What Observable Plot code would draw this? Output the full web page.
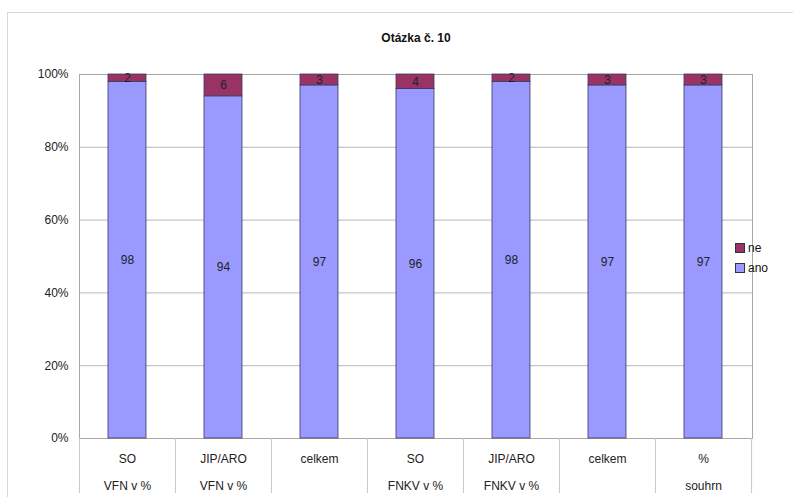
<!DOCTYPE html>
<html>
<head>
<meta charset="utf-8">
<script src="https://cdn.jsdelivr.net/npm/d3@7"></script>
<script src="https://cdn.jsdelivr.net/npm/@observablehq/plot@0.6"></script>
<style>
  html, body { margin: 0; padding: 0; background: #fff; overflow: hidden; }
  #wrap { position: relative; width: 793px; height: 497px; font-family: "Liberation Sans", Arial, sans-serif; }
  #border { position: absolute; left: 7px; top: 12px; width: 900px; height: 600px; border-left: 1px solid #d8d8d8; border-top: 1px solid #d8d8d8; }
  #chart { position: absolute; left: 0; top: 0; }
  #legend { position: absolute; left: 735px; top: 238px; font-size: 12px; color: #111; line-height: 20px; white-space: nowrap; }
  #legend .sw { display: inline-block; width: 8px; height: 8px; border: 1px solid #333; margin-right: 3px; vertical-align: -1px; }
</style>
</head>
<body>
<div id="wrap">
  <div id="border"></div>
  <div id="chart"></div>
  <div id="legend"></div>
</div>
<script>
const title = "Otázka č. 10";
const categories = ["SO\nVFN v %", "JIP/ARO\nVFN v %", "celkem", "SO\nFNKV v %", "JIP/ARO\nFNKV v %", "celkem", "%\nsouhrn"];
const ano = [98, 94, 97, 96, 98, 97, 97];
const ne = [2, 6, 3, 4, 2, 3, 3];
const seriesNames = ["ano", "ne"];
const seriesColors = ["#9999FF", "#993366"];
const yTicks = [0, 20, 40, 60, 80, 100];

const rows = [];
categories.forEach((c, i) => {
  rows.push({i, series: "ano", value: ano[i]});
  rows.push({i, series: "ne", value: ne[i]});
});
const idx = categories.map((c, i) => i);

const W = 793, H = 497;
const mL = 79, mR = 41, mT = 74, mB = 59;
const step = (W - mL - mR) / categories.length;

const plot = Plot.plot({
  width: W, height: H,
  marginLeft: mL, marginRight: mR, marginTop: mT, marginBottom: mB,
  style: {fontFamily: "'Liberation Sans', Arial, sans-serif", fontSize: "12px", background: "transparent", color: "#222"},
  x: {type: "band", domain: idx, paddingInner: 0.6, paddingOuter: 0.3},
  y: {domain: [0, 100]},
  color: {domain: seriesNames, range: seriesColors},
  marks: [
    Plot.gridY(yTicks, {stroke: "#b8b8b8", strokeOpacity: 1}),
    Plot.frame({stroke: "#a8a8a8"}),
    Plot.barY(rows, Plot.stackY({x: "i", y: "value", fill: "series", order: seriesNames, stroke: "#3a3a5a", strokeWidth: 0.8})),
    Plot.text(rows, Plot.stackY({x: "i", y: "value", z: "series", order: seriesNames, text: "value", fill: "#222", fontSize: 12})),
    Plot.axisY(yTicks, {tickFormat: d => d + "%", tickSize: 0, tickPadding: 11, fontSize: 12, label: null}),
    Plot.axisX(idx, {tickFormat: i => categories[i], tickSize: 0, tickPadding: 5, lineHeight: 2.25, fontSize: 12, label: null}),
    Plot.axisX(idx, {text: null, tickSize: mB - 4, dx: -step / 2, stroke: "#c8c8c8", label: null}),
    Plot.axisX([idx[idx.length - 1]], {text: null, tickSize: mB - 4, dx: step / 2, stroke: "#c8c8c8", label: null}),
    Plot.text([title], {frameAnchor: "top", dy: -41, fontWeight: "bold", fontSize: 12, fill: "#111"})
  ]
});
document.getElementById("chart").appendChild(plot);

const legend = document.getElementById("legend");
[["ne", seriesColors[1]], ["ano", seriesColors[0]]].forEach(([name, col]) => {
  const row = document.createElement("div");
  row.innerHTML = `<span class="sw" style="background:${col}"></span>${name}`;
  legend.appendChild(row);
});
</script>
</body>
</html>
